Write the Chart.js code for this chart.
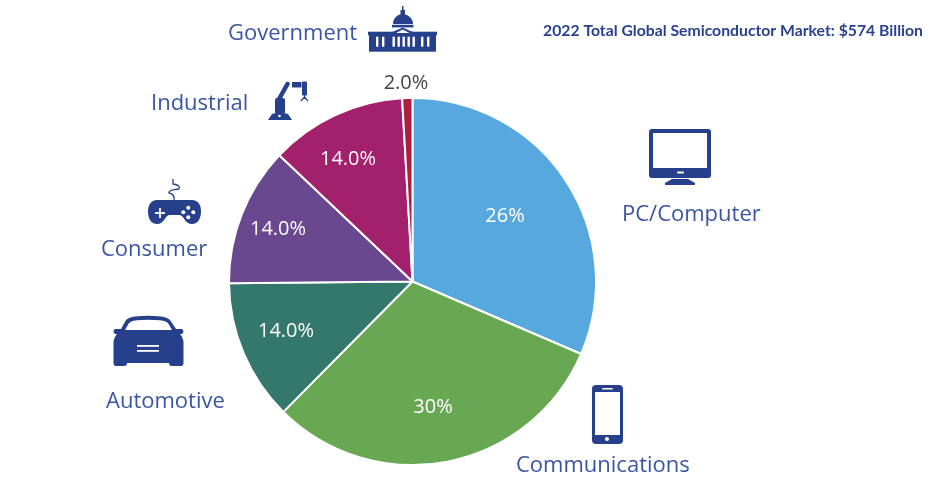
<!DOCTYPE html>
<html>
<head>
<meta charset="utf-8">
<title>2022 Total Global Semiconductor Market</title>
<script src="https://cdn.jsdelivr.net/npm/chart.js@4"></script>
<style>
    html, body { margin: 0; padding: 0; background: #ffffff; }
    canvas { display: block; }
</style>
</head>
<body>
<canvas id="marketPie" width="938" height="492"></canvas>
<script>
    "use strict";

    var categories = ['PC/Computer', 'Communications', 'Automotive', 'Consumer', 'Industrial', 'Government'];
    // slice sizes as drawn, the printed labels do not add up with the geometry
    var sliceShares = [31.4, 30.9, 12.4, 12.2, 12.0, 0.9];
    var printedLabels = ['26%', '30%', '14.0%', '14.0%', '14.0%', '2.0%'];
    var sliceColors = ['#56a8df', '#69a853', '#33786b', '#694890', '#a3206d', '#ae1f3f'];
    var chartTitle = '2022 Total Global Semiconductor Market: $574 Billion';

    var BLUE = '#27408b';
    var LABEL_BLUE = '#3a56a3';

    // label anchors, same order as categories
    var valueAnchors = [[505, 216], [433, 407], [286, 331], [278, 229], [348, 159], [406, 83]];
    var nameAnchors = [[622, 221], [516, 472], [106, 408], [101, 256], [151, 110], [228, 40]];

    function roundRect(ctx, x, y, w, h, r) {
        ctx.beginPath();
        ctx.roundRect(x, y, w, h, r);
    }

    function drawMonitor(ctx) {
        ctx.fillStyle = BLUE;
        roundRect(ctx, 649, 129, 62, 49, 3);
        ctx.fill();
        ctx.fillStyle = '#fff';
        ctx.fillRect(653, 133, 54, 35);
        roundRect(ctx, 677, 171.5, 7, 2, 1);
        ctx.fill();
        ctx.fillStyle = BLUE;
        ctx.beginPath();
        ctx.moveTo(672, 179);
        ctx.lineTo(688, 179);
        ctx.lineTo(695, 183);
        ctx.lineTo(695, 185);
        ctx.lineTo(665, 185);
        ctx.lineTo(665, 183);
        ctx.closePath();
        ctx.fill();
    }

    function drawPhone(ctx) {
        ctx.fillStyle = BLUE;
        roundRect(ctx, 592, 385, 31, 59, 4);
        ctx.fill();
        ctx.fillStyle = '#fff';
        ctx.fillRect(595, 392, 25, 43);
        roundRect(ctx, 602, 388, 11, 1.6, 0.8);
        ctx.fill();
        ctx.beginPath();
        ctx.arc(607, 439, 2, 0, Math.PI * 2);
        ctx.fill();
    }

    function drawCar(ctx) {
        ctx.fillStyle = BLUE;
        ctx.beginPath();
        ctx.moveTo(121, 329);
        ctx.lineTo(126, 320);
        ctx.quadraticCurveTo(129, 317, 135, 316.5);
        ctx.quadraticCurveTo(148, 315, 161, 316.5);
        ctx.quadraticCurveTo(167, 317, 170, 320);
        ctx.lineTo(176, 329);
        ctx.lineTo(182, 329);
        ctx.quadraticCurveTo(185, 331.5, 182, 334);
        ctx.lineTo(180, 334);
        ctx.quadraticCurveTo(183.5, 338, 183.5, 343);
        ctx.lineTo(183.5, 363);
        ctx.quadraticCurveTo(183.5, 366, 181, 366);
        ctx.lineTo(172, 366);
        ctx.quadraticCurveTo(169, 366, 169, 363);
        ctx.lineTo(127, 363);
        ctx.quadraticCurveTo(127, 366, 124, 366);
        ctx.lineTo(116, 366);
        ctx.quadraticCurveTo(113.5, 366, 113.5, 363);
        ctx.lineTo(113.5, 343);
        ctx.quadraticCurveTo(113.5, 338, 117, 334);
        ctx.lineTo(115, 334);
        ctx.quadraticCurveTo(112, 331.5, 115, 329);
        ctx.closePath();
        ctx.fill();
        // windscreen
        ctx.fillStyle = '#fff';
        ctx.beginPath();
        ctx.moveTo(125, 330);
        ctx.lineTo(129, 323);
        ctx.quadraticCurveTo(132, 320.5, 137, 320.2);
        ctx.quadraticCurveTo(148, 319.5, 160, 320.2);
        ctx.quadraticCurveTo(165, 320.5, 168, 323);
        ctx.lineTo(172, 330);
        ctx.closePath();
        ctx.fill();
        ctx.fillRect(137, 345, 22, 1.8);
        ctx.fillRect(137, 350, 22, 1.8);
    }

    function drawGamepad(ctx) {
        ctx.strokeStyle = BLUE;
        ctx.lineWidth = 1.3;
        ctx.beginPath();
        ctx.moveTo(173, 179);
        ctx.lineTo(173, 184);
        ctx.quadraticCurveTo(181, 185, 179, 189);
        ctx.quadraticCurveTo(168, 190, 169, 193);
        ctx.quadraticCurveTo(175, 194, 174, 200);
        ctx.stroke();
        ctx.fillStyle = BLUE;
        ctx.beginPath();
        ctx.moveTo(157, 200);
        ctx.lineTo(192, 200);
        ctx.bezierCurveTo(198, 200, 201, 205, 201, 211);
        ctx.bezierCurveTo(201, 220, 197, 224, 192, 224);
        ctx.bezierCurveTo(185, 224, 184, 216, 180, 215);
        ctx.lineTo(169, 215);
        ctx.bezierCurveTo(165, 216, 164, 224, 157, 224);
        ctx.bezierCurveTo(152, 224, 148, 220, 148, 211);
        ctx.bezierCurveTo(148, 205, 151, 200, 157, 200);
        ctx.closePath();
        ctx.fill();
        ctx.fillStyle = '#fff';
        ctx.fillRect(155, 212.1, 10, 1.8);
        ctx.fillRect(159.1, 208, 1.8, 10);
        [[188.3, 207.7], [193.3, 212.3], [183.3, 212.3], [188.3, 217.3]].forEach(function (p) {
            ctx.beginPath();
            ctx.arc(p[0], p[1], 2, 0, Math.PI * 2);
            ctx.fill();
        });
    }

    function drawRobot(ctx) {
        ctx.fillStyle = BLUE;
        ctx.strokeStyle = BLUE;
        // pillar and foot
        roundRect(ctx, 275, 98, 10, 16, 2);
        ctx.fill();
        ctx.beginPath();
        ctx.moveTo(268, 120);
        ctx.lineTo(272, 114);
        ctx.quadraticCurveTo(280, 111, 288, 114);
        ctx.lineTo(292, 120);
        ctx.closePath();
        ctx.fill();
        ctx.fillStyle = '#fff';
        ctx.beginPath();
        ctx.arc(279.5, 116, 1.3, 0, Math.PI * 2);
        ctx.fill();
        // arm
        ctx.lineCap = 'round';
        ctx.lineWidth = 4.5;
        ctx.beginPath();
        ctx.moveTo(279, 99);
        ctx.lineTo(287.5, 84);
        ctx.stroke();
        ctx.lineCap = 'butt';
        ctx.fillStyle = BLUE;
        ctx.fillRect(292, 82, 9.5, 5.5);
        roundRect(ctx, 302, 81.5, 5, 14, 1);
        ctx.fill();
        // gripper
        ctx.lineWidth = 1.3;
        ctx.beginPath();
        ctx.moveTo(304.5, 95);
        ctx.lineTo(304.5, 98);
        ctx.moveTo(304.5, 97);
        ctx.lineTo(301, 101);
        ctx.moveTo(304.5, 97);
        ctx.lineTo(308, 101);
        ctx.stroke();
    }

    function drawCapitol(ctx) {
        ctx.fillStyle = BLUE;
        // spire and dome
        ctx.fillRect(402, 6, 1.5, 6);
        ctx.fillRect(400.5, 10, 4.5, 5);
        ctx.beginPath();
        ctx.moveTo(393, 24);
        ctx.bezierCurveTo(393, 17, 399, 14, 402.7, 14);
        ctx.bezierCurveTo(406, 14, 413, 17, 413, 24);
        ctx.closePath();
        ctx.fill();
        ctx.fillRect(392, 24.8, 21.5, 2.6);
        // pediment
        ctx.beginPath();
        ctx.moveTo(402.7, 27.5);
        ctx.lineTo(415, 33);
        ctx.lineTo(390, 33);
        ctx.closePath();
        ctx.fill();
        // body
        ctx.fillRect(368, 31.7, 69, 3.5);
        ctx.fillRect(369, 35, 67, 16.7);
        ctx.fillStyle = '#fff';
        ctx.beginPath();
        ctx.moveTo(402.7, 29.5);
        ctx.lineTo(409.5, 33);
        ctx.lineTo(396, 33);
        ctx.closePath();
        ctx.fill();
        [376, 382, 392.5, 397.5, 402.5, 407.5, 412.5, 421, 427].forEach(function (x) {
            ctx.fillRect(x, 36.7, 2.4, 10);
        });
    }

    var marketLabels = {
        id: 'marketLabels',
        afterDraw: function (chart) {
            var ctx = chart.ctx;
            ctx.save();
            drawMonitor(ctx);
            drawPhone(ctx);
            drawCar(ctx);
            drawGamepad(ctx);
            drawRobot(ctx);
            drawCapitol(ctx);

            ctx.textBaseline = 'alphabetic';
            ctx.textAlign = 'right';
            ctx.fillStyle = '#2a4190';
            ctx.font = 'bold 15.75px Lato';
            ctx.fillText(chartTitle, 923, 36);

            ctx.textAlign = 'left';
            ctx.fillStyle = LABEL_BLUE;
            ctx.font = '22px "Open Sans"';
            categories.forEach(function (name, i) {
                ctx.fillText(name, nameAnchors[i][0], nameAnchors[i][1]);
            });

            ctx.textAlign = 'center';
            ctx.textBaseline = 'middle';
            ctx.font = '20px "Open Sans"';
            printedLabels.forEach(function (label, i) {
                ctx.fillStyle = i === 5 ? '#444444' : '#ffffff';
                ctx.fillText(label, valueAnchors[i][0], valueAnchors[i][1]);
            });
            ctx.restore();
        }
    };

    new Chart(document.getElementById('marketPie').getContext('2d'), {
        type: 'pie',
        data: {
            labels: categories,
            datasets: [{
                data: sliceShares,
                backgroundColor: sliceColors,
                borderColor: '#ffffff',
                borderWidth: 2
            }]
        },
        options: {
            responsive: false,
            animation: false,
            layout: { padding: { left: 228, right: 341, top: 97, bottom: 26 } },
            plugins: {
                legend: { display: false },
                tooltip: { enabled: false },
                title: { display: false }
            }
        },
        plugins: [marketLabels]
    });
</script>
</body>
</html>
